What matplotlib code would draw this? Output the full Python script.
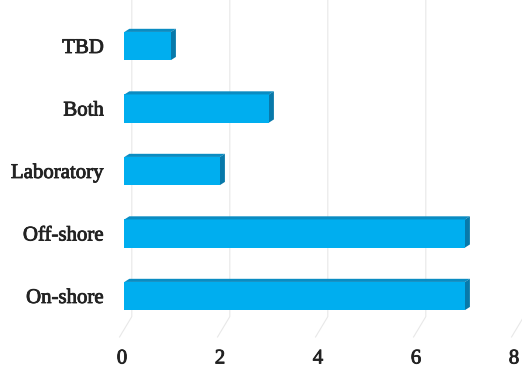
import matplotlib
matplotlib.use("Agg")
import matplotlib.pyplot as plt
from matplotlib.patches import Polygon
import matplotlib.patheffects as pe

categories = ["On-shore", "Off-shore", "Laboratory", "Both", "TBD"]
values = [7, 7, 2, 3, 1]
x_ticks = [0, 2, 4, 6, 8]

W, H = 522, 378
fig = plt.figure(figsize=(W / 100, H / 100), dpi=100)
ax_left, ax_right = 122 / W, 514 / W
ax_bottom, ax_top = (H - 337) / H, 1.0
ax = fig.add_axes([ax_left, ax_bottom, ax_right - ax_left, ax_top - ax_bottom])

ax.set_xlim(0, 8)
ax.set_ylim(-0.656, 4.736)

# pseudo-3D depth (data units)
dx, dy = 0.10, 0.05
bar_h = 0.45
front = "#00AEEF"
top_c = "#0A8CC2"
side_c = "#0879AA"

# back-wall grid lines with a floor diagonal
g_off = 0.2
for v in x_ticks:
    ax.plot([v + g_off, v + g_off, v - 0.05], [4.736, -0.33, -0.656],
            color="#E8E8E8", lw=0.8, zorder=0, clip_on=False)

for i, v in enumerate(values):
    y0, y1 = i - bar_h / 2, i + bar_h / 2
    ax.add_patch(Polygon([(0.05, y0), (v, y0), (v, y1), (0.05, y1)],
                         closed=True, facecolor=front, edgecolor="none", zorder=3))
    ax.add_patch(Polygon([(0.05, y1), (0.05 + dx, y1 + dy), (v + dx, y1 + dy), (v, y1)],
                         closed=True, facecolor=top_c, edgecolor="none", zorder=3))
    ax.add_patch(Polygon([(v, y0), (v, y1), (v + dx, y1 + dy), (v + dx, y0 + dy)],
                         closed=True, facecolor=side_c, edgecolor="none", zorder=3))

for s in ax.spines.values():
    s.set_visible(False)

ax.set_yticks(range(len(categories)))
ax.set_yticklabels(categories)
ax.set_xticks(x_ticks)
ax.set_xticklabels([str(t) for t in x_ticks])
ax.tick_params(axis="both", length=0, labelsize=15, labelcolor="#222222")
ax.tick_params(axis="y", pad=13)
ax.tick_params(axis="x", pad=9)
for lab in ax.get_xticklabels() + ax.get_yticklabels():
    lab.set_fontfamily("Liberation Serif")
    lab.set_path_effects([pe.withStroke(linewidth=0.6, foreground="#222222")])

fig.savefig("out.png", dpi=100)
